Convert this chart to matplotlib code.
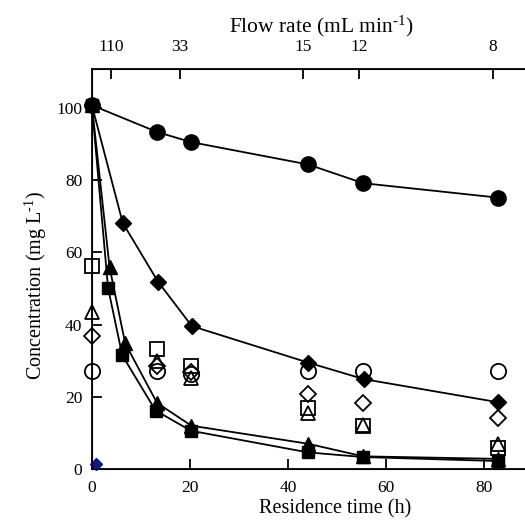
import numpy as np
import matplotlib
matplotlib.use('Agg')
import matplotlib.pyplot as plt

plt.rcParams['font.family'] = ['Liberation Serif', 'DejaVu Serif']
plt.rcParams['mathtext.fontset'] = 'custom'
plt.rcParams['mathtext.rm'] = 'Liberation Serif'
plt.rcParams['mathtext.it'] = 'Liberation Serif:italic'

## Data
# filled series (with lines)
circ_x = [0, 13.3, 20.2, 44.1, 55.4, 82.9]
circ_y = [100.8, 93.4, 90.6, 84.4, 79.2, 75.2]
diam_x = [0, 6.3, 13.5, 20.4, 44.1, 55.5, 82.9]
diam_y = [100.8, 68.2, 51.9, 39.6, 29.5, 24.9, 18.5]
tri_x = [0, 3.6, 6.8, 13.3, 20.3, 44.1, 55.4, 82.9]
tri_y = [100.8, 56.0, 34.8, 18.3, 12.0, 7.0, 3.5, 2.8]
sq_x = [0, 3.3, 6.2, 13.0, 20.2, 44.1, 55.4, 82.9]
sq_y = [100.8, 50.2, 31.5, 16.2, 10.6, 4.6, 3.3, 2.2]

# open series (markers only)
open_x = [0, 13.3, 20.2, 44.1, 55.4, 82.9]
osq_y = [56.2, 33.2, 28.5, 16.8, 12.0, 5.8]
otri_y = [43.5, 30.0, 25.2, 15.5, 12.3, 6.8]
odiam_y = [36.8, 28.5, 27.0, 20.8, 18.2, 14.2]
ocirc_y = [27.2, 27.2, 26.2, 27.2, 27.2, 27.2]

blue_x = [0.9]
blue_y = [1.5]

# top axis (flow rate)
flow_pos = [3.9, 18.0, 43.1, 54.5, 81.8]
flow_labels = ['110', '33', '15', '12', '8']


def main():
    fig = plt.figure(figsize=(5.25, 5.24), dpi=100)
    ax = fig.add_axes([0.175, 0.105, 0.825, 0.763])

    lw = 1.3
    ax.plot(circ_x, circ_y, '-o', color='black', lw=lw, ms=11, zorder=3, clip_on=False)
    ax.plot(diam_x, diam_y, '-D', color='black', lw=lw, ms=8, zorder=3, clip_on=False)
    ax.plot(tri_x, tri_y, '-^', color='black', lw=lw, ms=10, zorder=3, clip_on=False)
    ax.plot(sq_x, sq_y, '-s', color='black', lw=lw, ms=9, zorder=3, clip_on=False)

    kw = dict(linestyle='none', color='black', mfc='none', mew=1.3, zorder=4, clip_on=False)
    ax.plot(open_x, osq_y, marker='s', ms=10, **kw)
    ax.plot(open_x, otri_y, marker='^', ms=10, **kw)
    ax.plot(open_x, odiam_y, marker='D', ms=8, **kw)
    ax.plot(open_x, ocirc_y, marker='o', ms=11, **kw)

    ax.plot(blue_x, blue_y, 'D', color='#0a1a8c', ms=6, zorder=5, clip_on=False)

    ax.set_xlim(0, 88.4)
    ax.set_ylim(0, 110.8)
    ax.set_xticks([0, 20, 40, 60, 80])
    ax.set_yticks([0, 20, 40, 60, 80, 100])
    ax.tick_params(direction='in', length=7, width=1.3, labelsize=12.5, pad=8)
    ax.tick_params(axis='y', pad=7)
    for s in ['left', 'bottom', 'top']:
        ax.spines[s].set_linewidth(1.3)
    ax.spines['right'].set_visible(False)
    ax.set_xlabel('Residence time (h)', fontsize=14.5)
    ax.xaxis.set_label_coords(0.561, -0.075)
    ax.set_ylabel('Concentration (mg L$^{\\mathregular{\\text{-}1}}$)', fontsize=14.5)
    ax.yaxis.set_label_coords(-0.1, 0.46)

    top = ax.twiny()
    top.set_xlim(ax.get_xlim())
    top.set_xticks(flow_pos)
    top.set_xticklabels(flow_labels)
    top.tick_params(direction='in', length=7, width=1.3, labelsize=12.5, pad=10)
    top.spines['right'].set_visible(False)
    top.set_xlabel('Flow rate (mL min$^{\\mathregular{\\text{-}1}}$)', fontsize=15.5)
    top.xaxis.set_label_coords(0.529, 1.093)

    fig.savefig('out.png', dpi=100)


if __name__ == '__main__':
    main()
